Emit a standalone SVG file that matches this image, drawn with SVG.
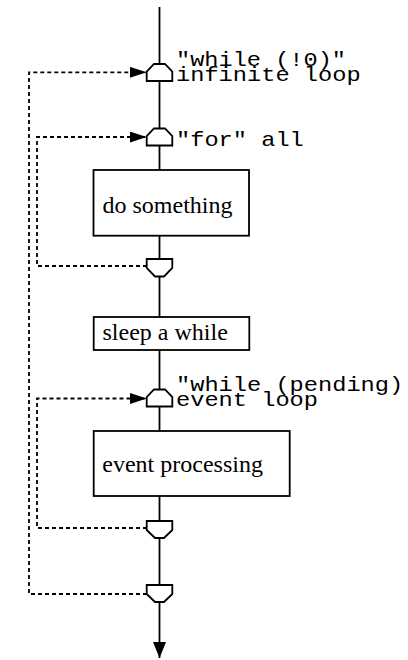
<svg xmlns="http://www.w3.org/2000/svg" width="408" height="660" viewBox="0 0 408 660">
<style>
.flow{fill:none;stroke:#000;stroke-width:1.8}
.dash{fill:none;stroke:#000;stroke-width:1.8;stroke-dasharray:4,3}
.box{fill:#fff;stroke:#000;stroke-width:1.8}
.sym{fill:#fff;stroke:#000;stroke-width:1.8;stroke-linejoin:miter}
.lbl{font-family:"Liberation Serif","Times New Roman",serif;font-size:24px;fill:#000}
.code{font-family:"Liberation Mono","Courier New",monospace;font-size:21px;fill:#000}
</style>
<defs>
<marker id="ah" viewBox="0 0 17 11" refX="17" refY="5.5" markerWidth="17" markerHeight="11" markerUnits="userSpaceOnUse" orient="auto">
<path d="M0,0 L17,5.5 L0,11 Z" fill="#000"/>
</marker>
<marker id="ahd" viewBox="0 0 16 13" refX="16" refY="6.5" markerWidth="16" markerHeight="13" markerUnits="userSpaceOnUse" orient="auto">
<path d="M0,0 L16,6.5 L0,13 Z" fill="#000"/>
</marker>
</defs>
<g id="connectors">
<path class="flow" d="M159.5,7 V64"/>
<path class="flow" d="M159.5,81 V128"/>
<path class="flow" d="M159.5,145 V170"/>
<path class="flow" d="M159.5,236 V259"/>
<path class="flow" d="M159.5,276 V317"/>
<path class="flow" d="M159.5,350 V389"/>
<path class="flow" d="M159.5,406 V431"/>
<path class="flow" d="M159.5,496 V521"/>
<path class="flow" d="M159.5,538 V585"/>
<path class="flow" d="M159.5,602 V658" marker-end="url(#ahd)"/>
<path class="dash" d="M147,594 H29 V72.3 H146.7" marker-end="url(#ah)"/>
<path class="dash" d="M147,266 H37 V137 H146.7" marker-end="url(#ah)"/>
<path class="dash" d="M147,528 H37 V398.5 H146.7" marker-end="url(#ah)"/>
</g>
<g id="loop-infinite">
<path class="sym" d="M154,64 H165 L172.3,71.7 V81 H146.7 V71.7 Z"/>
<text class="code" x="176" y="66" textLength="170" lengthAdjust="spacingAndGlyphs">"while (!0)"</text>
<text class="code" x="176" y="81" textLength="184.6" lengthAdjust="spacingAndGlyphs">infinite loop</text>
</g>
<g id="loop-for">
<path class="sym" d="M154,128.5 H165 L172.3,136.2 V145.5 H146.7 V136.2 Z"/>
<text class="code" x="176" y="146" textLength="127.8" lengthAdjust="spacingAndGlyphs">"for" all</text>
</g>
<g id="do-something">
<rect class="box" x="93.5" y="170" width="155.5" height="65.7"/>
<text class="lbl" x="102.5" y="213">do something</text>
</g>
<g id="end-for">
<path class="sym" d="M146.7,259 H172.3 V268 L164,276.5 H155 L146.7,268 Z"/>
</g>
<g id="sleep">
<rect class="box" x="93.7" y="317" width="155.6" height="33"/>
<text class="lbl" x="102.5" y="340">sleep a while</text>
</g>
<g id="loop-event">
<path class="sym" d="M154,389.5 H165 L172.3,397.2 V406.5 H146.7 V397.2 Z"/>
<text class="code" x="176" y="391" textLength="227.2" lengthAdjust="spacingAndGlyphs">"while (pending)</text>
<text class="code" x="176" y="406" textLength="142" lengthAdjust="spacingAndGlyphs">event loop</text>
</g>
<g id="event-processing">
<rect class="box" x="93.7" y="431" width="196" height="65"/>
<text class="lbl" x="102.3" y="472">event processing</text>
</g>
<g id="end-event">
<path class="sym" d="M146.7,521 H172.3 V530 L164,538 H155 L146.7,530 Z"/>
</g>
<g id="end-infinite">
<path class="sym" d="M146.7,585 H172.3 V594 L164,602 H155 L146.7,594 Z"/>
</g>
</svg>
